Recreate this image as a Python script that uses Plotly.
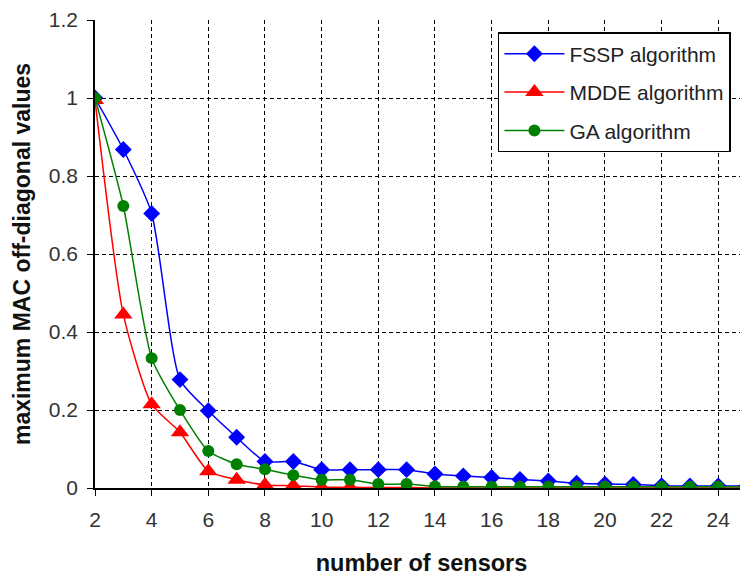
import plotly.graph_objects as go

sensors = list(range(2, 26))
fssp = [1.0, 0.868, 0.704, 0.278, 0.198, 0.13, 0.068, 0.068, 0.047, 0.047, 0.047, 0.047,
        0.036, 0.031, 0.027, 0.022, 0.018, 0.012, 0.01, 0.009, 0.006, 0.005, 0.005, 0.005]
mdde = [0.995, 0.445, 0.215, 0.143, 0.043, 0.021, 0.008, 0.006, 0.002, 0.002, 0.001, 0.001,
        0.0, 0.0, 0.0, 0.0, 0.0, 0.0, 0.0, 0.0, 0.0, 0.0, 0.0, 0.0]
ga = [1.0, 0.723, 0.333, 0.2, 0.095, 0.061, 0.048, 0.033, 0.021, 0.021, 0.01, 0.01,
      0.004, 0.003, 0.003, 0.003, 0.003, 0.003, 0.003, 0.003, 0.003, 0.003, 0.003, 0.003]

x_ticks = list(range(2, 26, 2))
y_ticks = [0, 0.2, 0.4, 0.6, 0.8, 1.0, 1.2]
y_labels = ["0", "0.2", "0.4", "0.6", "0.8", "1", "1.2"]

fig = go.Figure()
fig.add_trace(go.Scatter(x=sensors, y=fssp, name="FSSP algorithm", mode="lines+markers",
                         legendgroup="a",
                         line=dict(color="#0000ff", width=1.5, shape="spline", smoothing=0.6),
                         marker=dict(symbol="diamond", size=13, color="#0000ff")))
fig.add_trace(go.Scatter(x=sensors, y=mdde, name="MDDE algorithm", mode="lines+markers",
                         legendgroup="b",
                         line=dict(color="#ff0000", width=1.5, shape="spline", smoothing=0.6),
                         marker=dict(symbol="triangle-up", size=16, color="#ff0000")))
fig.add_trace(go.Scatter(x=sensors, y=ga, name="GA algorithm", mode="lines+markers",
                         legendgroup="c",
                         line=dict(color="#008000", width=1.5, shape="spline", smoothing=0.6),
                         marker=dict(symbol="circle", size=12, color="#008000")))

# The page body has an 8px margin, so the figure is offset by (8, 8) in the window.
fig.update_layout(
    width=740, height=568,
    margin=dict(l=87, r=0, t=12, b=88),
    paper_bgcolor="white", plot_bgcolor="white",
    font=dict(family="Liberation Sans, Arial, sans-serif", size=21, color="#333333"),
    legend=dict(x=0.617, y=0.974, xanchor="left", yanchor="top",
                bgcolor="white", bordercolor="black", borderwidth=1.5,
                font=dict(size=21, color="#222222"), tracegroupgap=8, itemwidth=60),
    showlegend=True,
)
fig.update_xaxes(
    range=[2, 25.05], tickvals=x_ticks, ticktext=[str(v) for v in x_ticks],
    showline=True, linecolor="black", linewidth=1.5,
    ticks="outside", ticklen=6, tickcolor="black", ticklabelstandoff=6,
    showgrid=True, gridcolor="black", griddash="4px,3px", gridwidth=1,
    zeroline=False, automargin=False,
    title=dict(text="<b>number of sensors</b>", font=dict(size=23.5, color="#111111"), standoff=28),
)
fig.update_yaxes(
    range=[0, 1.2], tickvals=y_ticks, ticktext=y_labels,
    showline=True, linecolor="black", linewidth=1.5,
    ticks="outside", ticklen=6, tickcolor="black", ticklabelstandoff=5,
    showgrid=True, gridcolor="black", griddash="4px,3px", gridwidth=1,
    zeroline=False, automargin=False,
    title=dict(text="<b>maximum MAC off-diagonal values</b>", font=dict(size=23, color="#111111"), standoff=12),
)

fig.write_html("out.html")
